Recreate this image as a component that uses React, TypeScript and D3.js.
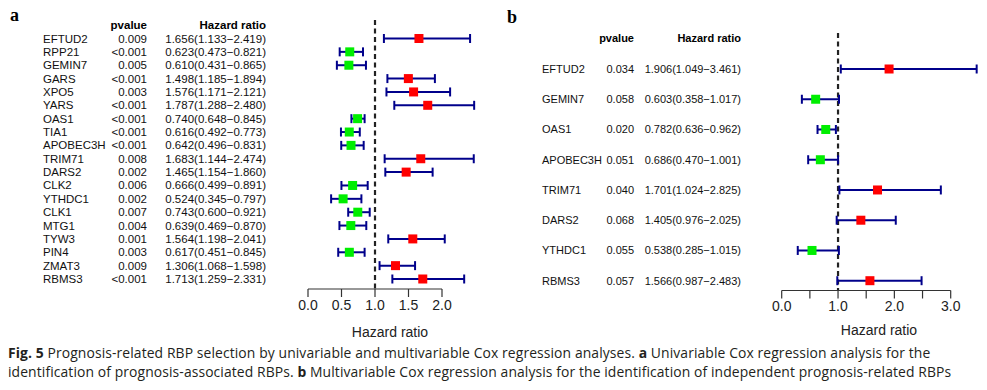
import React from "react";
import * as d3 from "d3";

// ---------- Data: panel a (univariable) ----------
const genesA = ["EFTUD2","RPP21","GEMIN7","GARS","XPO5","YARS","OAS1","TIA1","APOBEC3H","TRIM71","DARS2","CLK2","YTHDC1","CLK1","MTG1","TYW3","PIN4","ZMAT3","RBMS3"];
const pvalA = ["0.009","<0.001","0.005","<0.001","0.003","<0.001","<0.001","<0.001","<0.001","0.008","0.002","0.006","0.002","0.007","0.004","0.001","0.003","0.009","<0.001"];
const hrA = [1.656,0.623,0.610,1.498,1.576,1.787,0.740,0.616,0.642,1.683,1.465,0.666,0.524,0.743,0.639,1.564,0.617,1.306,1.713];
const lowA = [1.133,0.473,0.431,1.185,1.171,1.288,0.648,0.492,0.496,1.144,1.154,0.499,0.345,0.600,0.469,1.198,0.451,1.068,1.259];
const highA = [2.419,0.821,0.865,1.894,2.121,2.480,0.845,0.773,0.831,2.474,1.860,0.891,0.797,0.921,0.870,2.041,0.845,1.598,2.331];
const ticksA = [0, 0.5, 1, 1.5, 2];

// ---------- Data: panel b (multivariable) ----------
const genesB = ["EFTUD2","GEMIN7","OAS1","APOBEC3H","TRIM71","DARS2","YTHDC1","RBMS3"];
const pvalB = ["0.034","0.058","0.020","0.051","0.040","0.068","0.055","0.057"];
const hrB = [1.906,0.603,0.782,0.686,1.701,1.405,0.538,1.566];
const lowB = [1.049,0.358,0.636,0.470,1.024,0.976,0.285,0.987];
const highB = [3.461,1.017,0.962,1.001,2.825,2.025,1.015,2.483];
const ticksB = [0, 0.5, 1, 1.5, 2, 2.5, 3];
const tickLabelsB = ["0.0", "", "1.0", "", "2.0", "", "3.0"];

const fmt = (v: number) => v.toFixed(3);
const RED = "#ff0000";
const GREEN = "#00ee00";
const NAVY = "#00008b";
const FONT = "'Liberation Sans', Arial, sans-serif";

type PanelProps = {
  genes: string[]; pvals: string[]; hr: number[]; low: number[]; high: number[];
  ticks: number[]; tickLabels: string[];
  x: d3.ScaleLinear<number, number>;
  y: (i: number) => number;
  geneX: number; pX: number; hrX: number; headerY: number; fontSize: number;
  dashTop: number; axisY: number; titleX: number; titleY: number;
  box: number;
};

function Panel(p: PanelProps) {
  const [d0, d1] = p.x.domain();
  return (
    <g fontFamily={FONT}>
      <text x={p.pX} y={p.headerY} dy="0.35em" textAnchor="end" fontWeight="bold" fontSize={p.fontSize}>pvalue</text>
      <text x={p.hrX} y={p.headerY} dy="0.35em" textAnchor="end" fontWeight="bold" fontSize={p.fontSize}>Hazard ratio</text>
      {p.genes.map((g, i) => (
        <g key={g} fontSize={p.fontSize} fill="#111">
          <text x={p.geneX} y={p.y(i)} dy="0.35em">{g}</text>
          <text x={p.pX} y={p.y(i)} dy="0.35em" textAnchor="end">{p.pvals[i]}</text>
          <text x={p.hrX} y={p.y(i)} dy="0.35em" textAnchor="end">{`${fmt(p.hr[i])}(${fmt(p.low[i])}\u2212${fmt(p.high[i])})`}</text>
        </g>
      ))}
      {/* reference line */}
      <line x1={p.x(1)} x2={p.x(1)} y1={p.dashTop} y2={p.axisY} stroke="#222" strokeWidth={2.2} strokeDasharray="5,3.5" />
      {/* CIs */}
      {p.genes.map((g, i) => {
        const yy = p.y(i);
        const x1 = p.x(p.low[i]);
        const x2 = p.x(p.high[i]);
        const cx = p.x(p.hr[i]);
        return (
          <g key={"ci" + g}>
            <line x1={x1} x2={x2} y1={yy} y2={yy} stroke={NAVY} strokeWidth={2} />
            <line x1={x1} x2={x1} y1={yy - 4.5} y2={yy + 4.5} stroke={NAVY} strokeWidth={2} />
            <line x1={x2} x2={x2} y1={yy - 4.5} y2={yy + 4.5} stroke={NAVY} strokeWidth={2} />
            <rect x={cx - p.box / 2} y={yy - p.box / 2} width={p.box} height={p.box} fill={p.hr[i] > 1 ? RED : GREEN} />
          </g>
        );
      })}
      {/* axis */}
      <line x1={p.x(d0)} x2={p.x(d1)} y1={p.axisY} y2={p.axisY} stroke="#333" strokeWidth={1.2} />
      {p.ticks.map((t, i) => (
        <g key={"t" + t}>
          <line x1={p.x(t)} x2={p.x(t)} y1={p.axisY} y2={p.axisY + 8} stroke="#333" strokeWidth={1.2} />
          <text x={p.x(t)} y={p.axisY + 16} dy="0.35em" textAnchor="middle" fontSize={14} fill="#222">{p.tickLabels[i]}</text>
        </g>
      ))}
      <text x={p.titleX} y={p.titleY} dy="0.35em" textAnchor="middle" fontSize={14} fill="#222">Hazard ratio</text>
    </g>
  );
}

export default function App() {
  const xA = d3.scaleLinear().domain([0, 2]).range([308, 442]);
  const yA = d3.scaleLinear().domain([0, genesA.length - 1]).range([38.5, 279]);
  const xB = d3.scaleLinear().domain([0, 3]).range([781.7, 950.7]);
  const yB = d3.scaleLinear().domain([0, genesB.length - 1]).range([69, 280.7]);
  const capFont = "'Open Sans', 'Noto Sans', sans-serif";
  return (
    <svg width={987} height={390} style={{ position: "absolute", left: 0, top: 0, background: "#fff" }}>
      <rect width={987} height={390} fill="#fff" />
      <text x={10} y={15} dy="0.35em" fontFamily="'Liberation Serif', 'Times New Roman', serif" fontWeight="bold" fontSize={18}>a</text>
      <text x={507} y={17} dy="0.35em" fontFamily="'Liberation Serif', 'Times New Roman', serif" fontWeight="bold" fontSize={18}>b</text>
      <Panel genes={genesA} pvals={pvalA} hr={hrA} low={lowA} high={highA}
        ticks={ticksA} tickLabels={ticksA.map(t => t.toFixed(1))}
        x={xA} y={yA} geneX={43} pX={147} hrX={266} headerY={25} fontSize={11.5}
        dashTop={20} axisY={289} titleX={390} titleY={332} box={9} />
      <Panel genes={genesB} pvals={pvalB} hr={hrB} low={lowB} high={highB}
        ticks={ticksB} tickLabels={tickLabelsB}
        x={xB} y={yB} geneX={542} pX={634} hrX={741} headerY={38} fontSize={11}
        dashTop={33} axisY={290.5} titleX={879} titleY={330} box={9} />
      <g fontFamily={capFont} fontSize={13.9} fill="#231f20" letterSpacing={0.1}>
        <text x={8} y={358}>
          <tspan fontWeight="bold">Fig. 5</tspan>
          <tspan> Prognosis-related RBP selection by univariable and multivariable Cox regression analyses. </tspan>
          <tspan fontWeight="bold">a</tspan>
          <tspan> Univariable Cox regression analysis for the</tspan>
        </text>
        <text x={8} y={377}>
          <tspan>identification of prognosis-associated RBPs. </tspan>
          <tspan fontWeight="bold">b</tspan>
          <tspan> Multivariable Cox regression analysis for the identification of independent prognosis-related RBPs</tspan>
        </text>
      </g>
    </svg>
  );
}
